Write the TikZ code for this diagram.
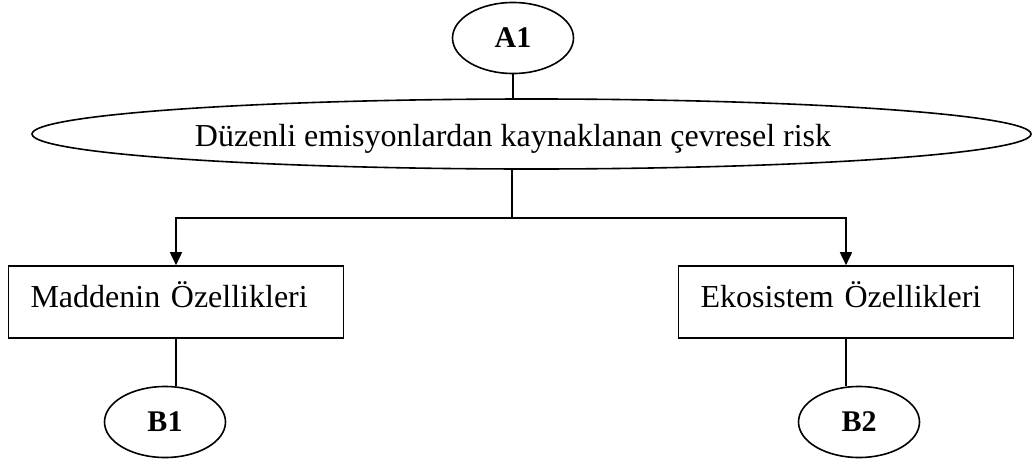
\documentclass[tikz,border=0pt]{standalone}
\usepackage{fontspec}
\setmainfont{Liberation Serif}
\usetikzlibrary{shapes.geometric,arrows.meta}
\begin{document}
\begin{tikzpicture}[x=1pt,y=-1pt,
  line width=1.6pt,
  oval/.style={draw,ellipse,inner sep=0pt},
  labelbox/.style={draw,rectangle,inner ysep=0pt,inner xsep=22pt,
    text width=291pt,align=left,text height=41pt,text depth=31pt},
  tag/.style={oval,minimum width=121pt,minimum height=71pt,
    font=\fontsize{30}{34}\selectfont\bfseries},
  arr/.style={-{Triangle[length=13pt,width=12pt]}},
  font=\fontsize{32}{37}\selectfont]
\useasboundingbox (0,0) rectangle (1032,463);

% nodes
\node[tag] (A1) at (513,38) {A1};
\node[oval,minimum width=999pt,minimum height=70pt] (risk) at (531.5,134) {};
\node[anchor=base,inner sep=0pt] (risklabel) at (513,146)
  {Düzenli emisyonlardan kaynaklanan çevresel risk};
\coordinate (fork) at (512,218);
\node[labelbox] (mad) at (176,302) {Maddenin Özellikleri};
\node[labelbox] (eko) at (846,302) {Ekosistem Özellikleri};
\node[tag] (B1) at (165,422) {B1};
\node[tag] (B2) at (859,422) {B2};

% connectors
\draw (A1.south) -- (A1.south |- risk.north);
\draw (fork |- risk.south) -- (fork);
\draw[arr] (fork) -| (mad.north);
\draw[arr] (fork) -| (eko.north);
\draw (mad.south) -- (mad.south |- B1.north);
\draw (eko.south) -- (eko.south |- B2.north);
\end{tikzpicture}
\end{document}
